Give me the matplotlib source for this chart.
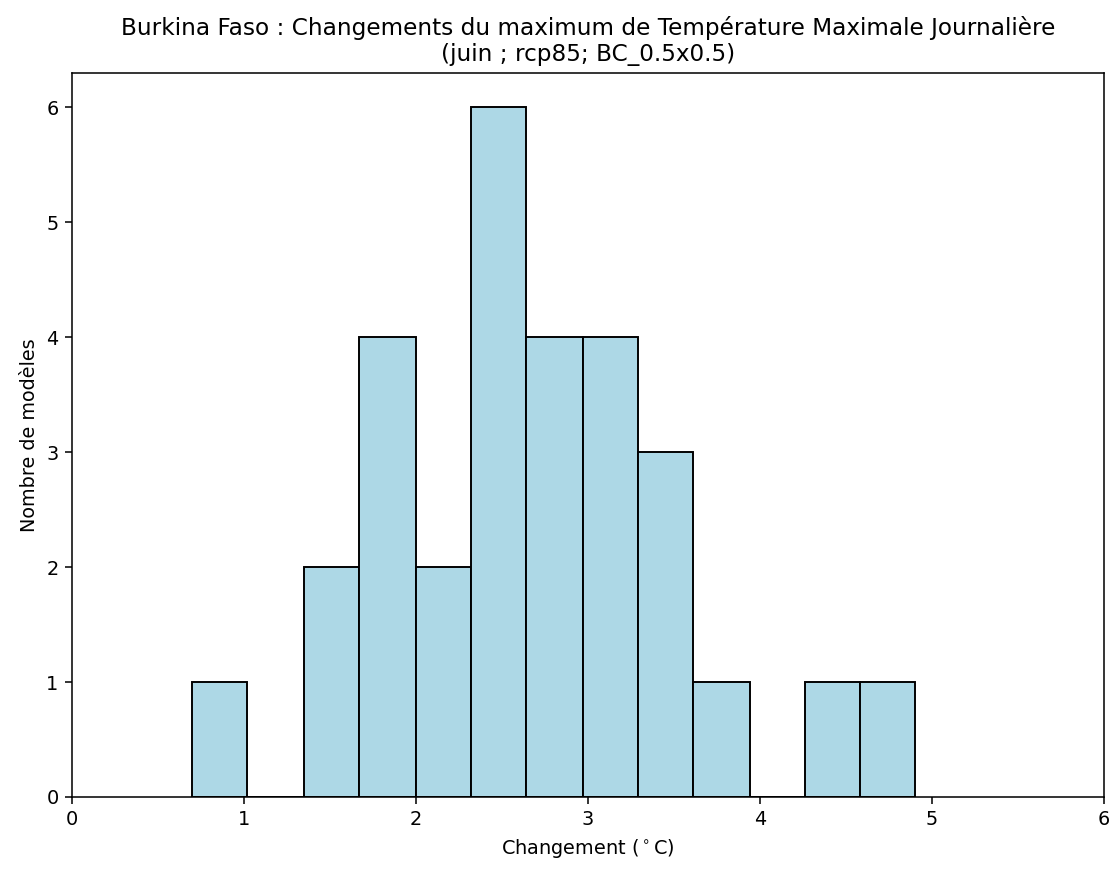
import numpy as np
import matplotlib.pyplot as plt

# bin edges (°C) and model counts
bin_edges = [0.70, 1.02, 1.35, 1.67, 2.00, 2.32, 2.64, 2.97, 3.29, 3.61, 3.94, 4.26, 4.58, 4.90]
counts = [1, 0, 2, 4, 2, 6, 4, 4, 3, 1, 0, 1, 1]

title = ("Burkina Faso : Changements du maximum de Température Maximale Journalière\n"
         "(juin ; rcp85; BC_0.5x0.5)")

fig = plt.figure(figsize=(1115 / 139, 869 / 139), dpi=139)
ax = fig.add_axes([0.0646, 0.0829, 0.9255, 0.8331])

ax.hist(bin_edges[:-1], bins=bin_edges, weights=counts,
        color='lightblue', edgecolor='black')
ax.set_xlim(0, 6)
ax.set_xlabel(r'Changement ($^\circ$C)')
ax.set_ylabel('Nombre de modèles')
ax.set_title(title)

fig.savefig('out.png', dpi=139)
